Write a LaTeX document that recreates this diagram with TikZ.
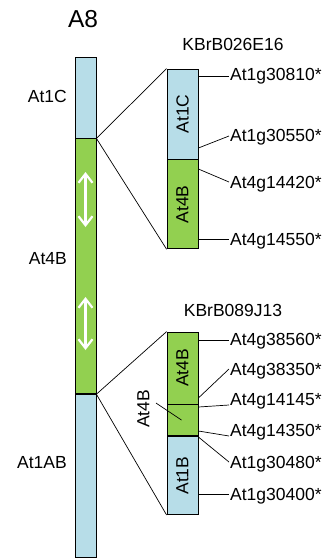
\documentclass[tikz,border=0pt]{standalone}
\usepackage{fontspec}
\setmainfont{Liberation Sans}
\usetikzlibrary{arrows.meta,positioning,calc}
\definecolor{ChrBlue}{RGB}{183,221,232}
\definecolor{ChrGreen}{RGB}{146,208,80}

\begin{document}
\begin{tikzpicture}[x=1pt,y=-1pt,
  seg/.style={draw,line width=0.8pt,inner sep=0pt,minimum width=21pt},
  bac/.style={draw,line width=0.8pt,inner sep=0pt,minimum width=31pt},
  lab/.style={font=\fontsize{17.5}{20}\selectfont,inner sep=1pt},
  tick/.style={line width=0.7pt},
  dbl/.style={white,line width=2.2pt,{Straight Barb[length=9pt,width=14pt]}-{Straight Barb[length=9pt,width=14pt]}}]
  \useasboundingbox (0,0) rectangle (325,558);
  % chromosome A8
  \node[seg,fill=ChrBlue,minimum height=81pt] (c1) at (85.5,97.5) {};
  \node[seg,fill=ChrGreen,minimum height=255pt,below=0pt of c1] (b4) {};
  \node[seg,fill=ChrBlue,minimum height=163pt,below=0pt of b4] (ab) {};
  \node[font=\fontsize{24.5}{28}\selectfont] (a8) at (83,19) {A8};
  \node[lab,anchor=east] (lc1) at (68,96) {At1C};
  \node[lab,anchor=east] (lb4) at (68,259) {At4B};
  \node[lab,anchor=east] (lab1) at (68,463) {At1AB};
  \coordinate (r1) at (85.5,172); \coordinate (r2) at (85.5,227);
  \coordinate (r3) at (85.5,297); \coordinate (r4) at (85.5,350);
  \draw[dbl] (r1) -- (r2);
  \draw[dbl] (r3) -- (r4);
  % BAC KBrB026E16
  \node[bac,fill=ChrBlue,minimum height=90pt] (u1) at (182.5,114) {};
  \node[bac,fill=ChrGreen,minimum height=89pt,below=0pt of u1] (u2) {};
  \node[lab,rotate=90] (tu1) at (u1) {At1C};
  \node[lab,rotate=90] (tu2) at (u2) {At4B};
  \node[lab] (kb1) at (233,44) {KBrB026E16};
  \draw[tick] (c1.south east) -- (u1.north west);
  \draw[tick] (c1.south east) -- (u2.south west);
  \foreach \t/\b/\s/\e [count=\i] in {At1g30810*/80/76/76,At1g30550*/141.5/148/136,
      At4g14420*/188/169/182,At4g14550*/245/239/239}
  {
    \node[lab,anchor=base west] (g\i) at (229,\b) {\t};
    \draw[tick] (u1.east |- 0,\s) -- (g\i.west |- 0,\e);
  }
  % BAC KBrB089J13
  \node[bac,fill=ChrGreen,minimum height=72pt] (l1) at (182.5,368) {};
  \node[bac,fill=ChrGreen,minimum height=31pt,below=0pt of l1] (l2) {};
  \node[bac,fill=ChrBlue,minimum height=78pt,below=0pt of l2] (l3) {};
  \node[lab,rotate=90] (tl1) at (l1) {At4B};
  \node[lab,rotate=90] (tl3) at (l3) {At1B};
  \node[lab,rotate=90] (tl2) at (143.5,409) {At4B};
  \coordinate (m2) at (181.5,420);
  \draw[tick] (156,403) -- (m2);
  \node[lab] (kb2) at (233,310) {KBrB089J13};
  \draw[tick] (b4.south east) -- (l1.north west);
  \draw[tick] (b4.south east) -- (l3.south west);
  \foreach \t/\b/\s/\e [count=\i] in {At4g38560*/345.5/340.5/340.5,At4g38350*/375/398/369,
      At4g14145*/405/407/405,At4g14350*/436.5/431/436,
      At1g30480*/468/437/462,At1g30400*/500/494/494}
  {
    \node[lab,anchor=base west] (h\i) at (229,\b) {\t};
    \draw[tick] (l1.east |- 0,\s) -- (h\i.west |- 0,\e);
  }
\end{tikzpicture}
\end{document}
